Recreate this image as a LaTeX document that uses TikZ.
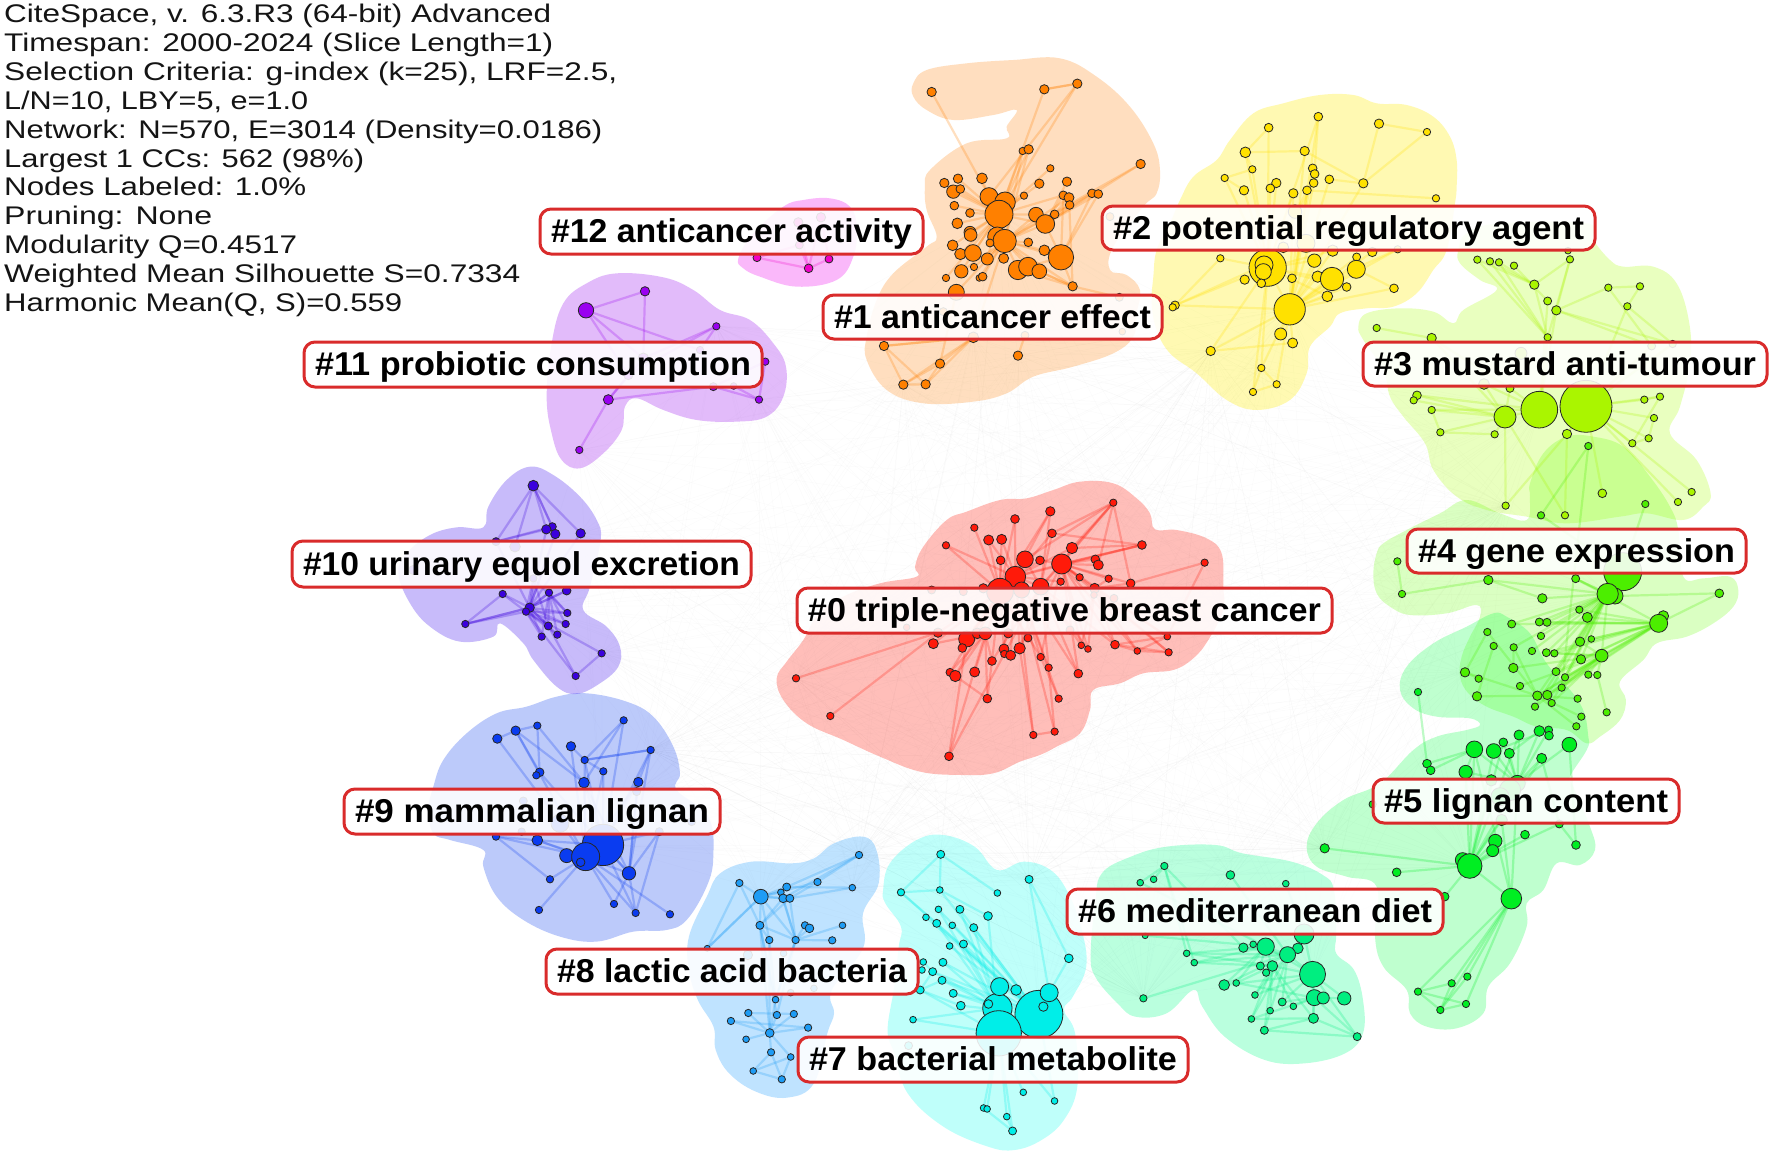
\documentclass[tikz,border=0pt]{standalone}
\usepackage{fontspec}
\usepackage{graphicx}
\setmainfont{Liberation Sans}
\pgfdeclarelayer{web}\pgfdeclarelayer{blob}\pgfdeclarelayer{edges}\pgfdeclarelayer{lab}
\pgfsetlayers{web,blob,edges,main,lab}
\definecolor{n0}{HTML}{FF1A0A}\definecolor{b0}{HTML}{FF2A1A}
\definecolor{n1}{HTML}{FF8000}\definecolor{b1}{HTML}{FF8C1A}
\definecolor{n2}{HTML}{FFE100}\definecolor{b2}{HTML}{FFEE00}
\definecolor{n3}{HTML}{AAF500}\definecolor{b3}{HTML}{A8FF00}
\definecolor{n4}{HTML}{4CEE00}\definecolor{b4}{HTML}{66FF00}
\definecolor{n5}{HTML}{00EE22}\definecolor{b5}{HTML}{00FF40}
\definecolor{n6}{HTML}{00EE80}\definecolor{b6}{HTML}{00FF88}
\definecolor{n7}{HTML}{00EEE8}\definecolor{b7}{HTML}{00FFEE}
\definecolor{n8}{HTML}{1E9CF5}\definecolor{b8}{HTML}{1A9BFF}
\definecolor{n9}{HTML}{0A3CF0}\definecolor{b9}{HTML}{0A3CF0}
\definecolor{n10}{HTML}{3A00DD}\definecolor{b10}{HTML}{4A20F0}
\definecolor{n11}{HTML}{9A00F0}\definecolor{b11}{HTML}{A020F0}
\definecolor{n12}{HTML}{F000C8}\definecolor{b12}{HTML}{F000F0}
\definecolor{labred}{HTML}{D92B2B}
\tikzset{
  fr/.style n args={4}{shift={(#1,#2)},x=#3pt,y=-#4pt},
  dotn/.style={circle,draw=black!85,line width=.8pt,inner sep=0pt,outer sep=0pt},
  edgeln/.style={draw=ec,line width=2.2pt,draw opacity=.25},
  webln/.style={draw=black,line width=.5pt,draw opacity=.014},
  labbox/.style={rounded corners=11pt,draw=labred,line width=3pt,fill=white,fill opacity=.88,text opacity=1,inner sep=0pt,text height=27pt,text depth=5pt},
  infoln/.style={anchor=base west,inner sep=0pt,font=\fontsize{25.5}{29}\selectfont,text=black!92}
}
\newcommand{\cl}[3]{\foreach \nx/\ny/\nr [count=\ni] in {#3}{%
  \pgfmathsetmacro\nd{2*(\nr+2)/3}%
  \node[dotn,fill=#2,minimum size=\nd pt] (#1-\ni) at (\nx,\ny) {};}}
\newcommand{\fan}[3]{\begin{pgfonlayer}{edges}\foreach \bb in {#3}{\draw[edgeln] (#1-#2.center) -- (#1-\bb.center);}\end{pgfonlayer}}
\newcommand{\ed}[2]{\begin{pgfonlayer}{edges}\foreach \aa/\bb in {#2}{\draw[edgeln] (#1-\aa.center) -- (#1-\bb.center);}\end{pgfonlayer}}
\newcommand{\blob}[3]{\begin{pgfonlayer}{blob}\fill[fill=#1,fill opacity=#2] plot[smooth cycle,tension=.65] coordinates {#3};\end{pgfonlayer}}
\newcommand{\lab}[6]{\begin{pgfonlayer}{lab}%
  \pgfmathsetmacro\tw{#3-#1-22}%
  \pgfmathsetmacro\lw{#3-#1}\pgfmathsetmacro\lh{#4-#2}%
  \node[labbox,minimum width=\lw pt,minimum height=\lh pt] (#5) at ({(#1+#3)/2},{(#2+#4)/2}) {\resizebox{\tw pt}{\height}{\fontsize{33}{33}\selectfont\bfseries #6}};%
\end{pgfonlayer}}
\begin{document}
\begin{tikzpicture}[x=1pt,y=-1pt]
\useasboundingbox (0,0) rectangle (1771,1153);
\begin{pgfonlayer}{web}
\fill[white] (0,0) rectangle (1771,1153);
\end{pgfonlayer}

% ---- #0
\begin{scope}[fr={760}{470}{.3333}{.3333}]
\colorlet{ec}{n0}
\blob{b0}{.3}{(50,625)(80,575)(130,510)(170,440)(250,380)(360,340)(470,320)(465,290)(490,230)(560,150)(620,125)(720,90)(800,85)(880,60)(960,35)(1060,40)(1130,85)(1170,130)(1185,178)(1250,180)(1340,205)(1385,250)(1390,350)(1390,420)(1345,510)(1300,565)(1240,600)(1150,610)(1080,640)(1000,660)(990,720)(960,790)(890,830)(840,855)(780,875)(700,910)(600,915)(480,905)(360,860)(250,810)(140,760)(70,690)}
\cl{c0}{n0}{1060/98/9,871/124/12,765/147/11,643/173/9,876/190/11,558/226/9,686/210/13,725/208/13,1146/225/11,936/234/15,722/271/11,795/268/23,840/271/11,905/282/28,1006/268/11,1015/285/13,1334/278/9,766/320/29,902/335/9,959/322/9,1046/326/9,1112/340/11,720/365/38,842/350/23,670/355/12,1004/355/13,785/360/22,534/488/12,620/507/22,652/490/14,676/490/17,745/490/12,520/521/13,607/534/11,804/504/10,732/537/13,733/552/9,779/535/15,752/556/13,964/526/8,984/537/8,1065/524/11,1132/543/8,1222/500/8,1226/547/9,842/561/9,866/593/9,696/573/11,570/607/10,586/618/15,644/606/13,955/611/11,108/625/9,682/686/11,896/686/9,211/738/9,820/795/9,884/785/9,567/859/11,515/360/10,610/365/10,1062/385/10,440/472/8,930/480/10,1002/375/8}
\fan{c0}{1}{5,10,14,16,12,22,24}\fan{c0}{9}{10,14,18,5}\fan{c0}{17}{22,44}
\fan{c0}{23}{4,6,7,8,3,2,11,28,29,30,33,34,36,48,49,50,51,46,35,32,12,18}
\fan{c0}{18}{3,6,7,8,2,5,10,13,14,19,24,29,36,38,39,46,47,52,55,57,58}
\fan{c0}{14}{10,13,15,16,20,21,22,26,40,41,42,43,44,45,9,38,46,52}
\fan{c0}{24}{2,5,12,14,40,41,42,52,47,38,48,59}
\fan{c0}{26}{42,43,44,45,40,41,21,22}\fan{c0}{42}{43,44,45}\fan{c0}{43}{45,44}
\fan{c0}{31}{48,50,49,54,34,33,59}
\ed{c0}{53/28,56/28,59/29,57/38,58/47,55/46,54/50,54/48,57/58}
\end{scope}

% ---- #1
\begin{scope}[fr={780}{60}{.3333}{.3333}]
\colorlet{ec}{n1}
\blob{b1}{.28}{(400,70)(440,30)(560,10)(700,0)(840,-5)(950,50)(1050,140)(1120,250)(1140,330)(1130,400)(1090,440)(1000,560)(990,630)(1040,645)(1080,690)(1070,760)(1060,830)(1000,880)(880,920)(760,950)(680,1000)(580,1025)(430,1030)(320,990)(260,900)(260,830)(290,720)(340,640)(440,560)(470,530)(440,450)(435,380)(450,330)(560,250)(680,235)(680,200)(710,150)(640,165)(520,180)(440,150)(400,110)}
\cl{c1}{n1}{455/96/12,793/88/12,892/71/12,728/273/9,746/268/12,811/325/9,1082/312/12,493/369/12,534/356/12,606/355/14,778/371/12,861/365/12,520/395/18,541/387/11,627/410/25,675/427/29,657/463/40,732/407/9,850/406/11,867/413/13,869/435/11,936/400/11,955/402/11,523/437/11,570/459/11,768/464/20,796/492/26,824/463/11,532/490/14,570/517/16,572/525/17,652/530/27,674/543/33,630/549/10,745/547/11,518/556/14,541/582/15,579/579/23,622/597/16,671/595/13,793/571/14,843/592/36,714/630/27,744/620/26,778/634/20,544/634/18,582/621/9,498/654/9,598/654/8,608/650/11,878/679/12,529/697/22,312/858/12,580/832/14,480/911/12,714/887/12,370/974/12,437/973/12,1018/712/10,490/755/10,735/826/10,1027/815/8,990/470/10}
\fan{c1}{17}{1,8,9,13,14,15,16,24,25,29,30,36,37,38,39,46,48,26,27,11,6,18,4,5,2,3,19}
\fan{c1}{33}{5,4,10,22,7,20,26,27,35,41,42,43,44,45,39,40,46,47,49,50,51,52,54}
\fan{c1}{42}{22,23,51,27,44,19}\fan{c1}{27}{12,7,19,20,22,23,21}\fan{c1}{51}{44,43,45,20,59}
\fan{c1}{54}{53,55,57,58}
\ed{c1}{2/3,2/3,3/15,53/57,53/58,57/55,57/58,58/55,55/52,53/54,56/61}
\end{scope}

% ---- #2
\begin{scope}[fr={1140}{90}{.3333}{.3333}]
\colorlet{ec}{n2}
\blob{b2}{.3}{(40,560)(50,480)(90,400)(120,330)(160,260)(230,210)(270,150)(340,70)(430,40)(540,15)(640,15)(710,40)(800,45)(880,80)(930,140)(950,210)(950,290)(945,340)(920,480)(880,540)(830,610)(760,650)(680,655)(600,670)(570,710)(510,770)(500,850)(450,930)(350,960)(260,930)(170,850)(90,790)(50,720)(35,640)}
\cl{c2}{n2}{535/80/11,386/113/11,717/101/12,861/126/9,316/187/14,494/183/12,337/238/9,254/264/9,518/235/11,524/252/11,521/279/11,409/279/12,391/295/11,312/301/12,460/310/12,501/301/11,568/268/11,670/280/12,888/325/9,465/365/18,241/505/9,383/533/54,372/525/25,370/545/22,314/569/12,364/580/11,456/565/11,523/512/18,578/482/15,650/501/10,697/486/12,649/538/25,533/560/15,576/567/33,620/591/11,562/619/14,762/595/11,449/658/45,105/646/11,422/732/16,458/759/13,212/783/12,364/834/9,410/883/9,339/906/9,773/478/9,498/460/25,430/472/14,98/652/9}
\fan{c2}{22}{2,5,7,8,14,13,12,15,16,11,1,21,25,39,42,43,45,38,36,35,28,33,29}
\fan{c2}{38}{1,6,9,11,15,16,17,18,28,29,30,31,32,33,34,35,36,37,46,39,42,40,41,43,44}
\ed{c2}{3/4,3/18,4/18,1/11,2/5,5/6,5/7,6/18,8/7,8/14,17/18,19/16,46/34,37/32,39/23,39/21,43/44,44/45,43/45,42/41}
\end{scope}

% ---- #3
\begin{scope}[fr={1300}{230}{.3333}{.3333}]
\colorlet{ec}{n3}
\blob{b3}{.25}{(475,60)(480,100)(540,150)(590,180)(490,240)(460,280)(400,245)(300,235)(200,250)(175,290)(190,330)(250,420)(270,500)(310,560)(375,640)(400,720)(470,800)(560,840)(680,860)(800,880)(960,860)(1040,850)(1150,870)(1210,830)(1232,790)(1190,690)(1110,610)(1140,530)(1170,400)(1168,280)(1130,160)(1060,110)(970,110)(930,90)(880,30)(860,-20)(600,-20)(500,10)}
\cl{c3}{n3}{532/89/9,570/94/9,597/97/9,642/107/9,804/62/8,810/88/9,703/164/12,743/213/10,769/241/12,925/173/9,1020/169/9,982/229/9,230/294/9,395/324/12,743/322/9,1055/348/10,1118/342/9,663/370/16,351/496/11,341/511/9,395/540/9,421/607/9,584/613/9,615/561/31,718/539/53,858/529/76,801/612/12,1033/509/9,1080/500/9,1062/564/9,1046/625/9,997/640/9,630/475/10,552/462/14,907/790/11,1175/786/9,1134/816/9,617/827/9,795/856/9}
\fan{c3}{26}{28,29,30,31,32,27,36,37,35,16,17,12}
\fan{c3}{25}{24,33,34,19,21,15,9,8}
\fan{c3}{24}{19,20,21,22,23,34,33,38,39,14}
\ed{c3}{22/21,22/23,13/14,38/27,39/27,14/33,8/4,7/1,7/2,7/3,9/6,6/7,9/10,10/11,11/12,9/16,12/17,9/17,10/16,15/1,15/2,15/3,15/6,15/7,26/27,30/31,29/32,28/29,32/31}
\end{scope}

% ---- #4
\begin{scope}[fr={1380}{560}{.3333}{.3333}]
\colorlet{ec}{n4}
\blob{b4}{.24}{(450,-230)(490,-320)(560,-370)(640,-370)(730,-340)(810,-250)(870,-160)(895,-90)(910,50)(970,55)(1050,50)(1075,90)(1060,140)(1000,190)(920,230)(830,250)(790,300)(720,365)(738,420)(720,480)(660,530)(620,550)(560,510)(470,500)(400,470)(320,440)(265,400)(240,350)(245,290)(270,230)(300,170)(290,135)(200,160)(90,165)(30,140)(-10,100)(-20,40)(-10,-20)(10,-50)(80,-90)(180,-140)(260,-180)(360,-140)(440,-120)(450,-190)}
\cl{c4}{n4}{625/-342/9,483/-134/9,796/-168/9,52/4/9,66/102/9,325/60/12,587/56/10,487/115/12,728/35/55,705/108/22,683/102/30,1018/100/11,850/168/14,836/190/25,598/149/9,622/172/13,395/192/10,478/186/10,501/187/10,483/228/9,634/237/8,600/245/12,401/262/9,456/273/9,499/278/10,523/280/9,665/287/17,603/298/12,400/324/12,528/335/10,555/352/9,625/344/9,652/345/9,420/378/9,545/383/9,472/407/12,502/405/12,593/416/9,515/429/9,465/440/9,680/457/9,604/470/9,589/499/9,322/216/9,341/258/9,255/337/12,296/356/9,291/409/12}
\fan{c4}{11}{6,7,8,15,16,17,18,19,20,22,23,25,26,27,28,30,31,35,36,37,39,40,24}
\fan{c4}{14}{12,22,21,16,25,26,28,27,30,31,36,37,35,7,15,18,19,17}
\fan{c4}{27}{36,37,35,39,40,25,26,22,32,33,31,34}
\fan{c4}{36}{43,42,38,48,46,23,44}
\ed{c4}{5/4,5/6,6/8,1/2,3/9,2/9,12/10,33/41,29/23,46/47,44/46,45/48,29/27,7/11,1/35}
\end{scope}

% ---- #5
\begin{scope}[fr={1280}{620}{.3333}{.3333}]
\colorlet{ec}{n5}
\blob{b5}{.25}{(360,210)(380,140)(460,70)(560,20)(640,-20)(680,-10)(750,40)(800,130)(900,250)(925,350)(920,390)(870,470)(880,500)(930,620)(945,690)(900,735)(830,730)(790,810)(740,850)(740,920)(690,1030)(625,1100)(610,1180)(530,1225)(440,1220)(390,1180)(380,1110)(310,1040)(285,950)(290,800)(200,770)(110,740)(80,680)(110,610)(190,540)(300,490)(400,390)(470,350)(560,330)(600,315)(570,295)(470,290)(400,265)}
\cl{c5}{n5}{414/216/9,583/388/23,641/393/20,688/400/13,670/367/11,717/345/13,778/333/14,806/330/10,807/347/11,868/374/20,785/415/13,441/431/11,452/451/11,557/456/18,634/481/15,712/490/22,278/553/9,665/600/15,838/612/10,735/644/11,646/663/18,638/692/16,888/675/11,134/685/12,350/757/11,548/720/20,569/738/35,494/830/11,694/836/29,414/1115/9,515/1090/9,562/1070/9,481/1170/9,558/1152/9,690/510/30,660/530/25}
\fan{c5}{27}{24,25,28,20,19,21,22,15,16,18,2,3,5,6,11,14}
\fan{c5}{29}{27,30,31,32,33,34,18,16,2}
\fan{c5}{16}{2,3,4,5,6,7,8,10,11,14,15}
\fan{c5}{2}{12,13,14}
\ed{c5}{30/33,30/34,31/33,32/33,33/34,30/31,1/12,10/23,11/19,7/4,3/8,23/19,27/26}
\end{scope}

% ---- #6, #7, #8
\begin{scope}[fr={680}{820}{.4464}{.3333}]
\colorlet{ec}{n6}
\blob{b6}{.27}{(920,400)(930,250)(945,160)(1010,110)(1090,80)(1200,75)(1260,100)(1370,125)(1440,165)(1465,210)(1470,340)(1470,400)(1510,450)(1530,540)(1530,640)(1490,700)(1400,730)(1310,720)(1220,650)(1170,560)(1150,510)(1090,580)(1020,590)(980,550)(930,470)}
\cl{c6}{n6}{1085/138/9,1061/178/8,1031/188/8,1233/165/11,1357/191/8,1042/347/7,1398/342/28,1262/383/12,1284/373/8,1312/380/24,1384/385/14,1361/404/22,1135/400/8,1152/428/8,1300/438/10,1327/438/14,1313/458/9,1417/463/37,1219/495/14,1246/489/8,1288/525/8,1421/533/22,1441/534/16,1488/535/18,1349/546/10,1374/559/8,1322/572/8,1419/595/13,1280/597/8,1309/631/10,1517/650/10,1038/535/9}
\fan{c6}{18}{10,12,16,19,21,22,24,28,31,25,7}
\fan{c6}{12}{8,10,14,13,19,21,25,29,30,32}
\fan{c6}{22}{28,31,29,26,25,20,24}
\fan{c6}{16}{13,14,20,21,26,27,28,29,30}
\fan{c6}{10}{13,14,6,15,16,19,20,8}
\ed{c6}{1/2,1/3,1/8,1/13,1/14,3/10,4/12,5/7,28/30,28/29,28/31,30/31}

\colorlet{ec}{n7}
\blob{b7}{.25}{(455,210)(470,130)(530,60)(590,45)(660,80)(710,150)(770,125)(830,150)(870,220)(900,330)(910,440)(880,530)(860,570)(885,640)(890,800)(860,900)(810,960)(750,990)(690,980)(590,920)(510,820)(480,700)(465,630)(480,500)(490,380)(495,320)(460,250)}
\cl{c7}{n7}{584/103/10,495/217/9,582/210/8,711/219/8,782/178/10,579/268/8,627/268/10,551/292/8,690/288/11,575/310/10,610/316/8,658/323/10,604/378/8,635/372/10,871/415/11,589/427/10,545/426/8,542/450/8,566/455/10,587/481/10,538/510/10,612/520/10,629/557/11,522/599/8,711/565/42,804/583/70,714/640/66,716/500/25,753/510/14,827/518/25,691/552/11,814/560/12,769/817/8,839/843/8,680/864/8,688/867/8,732/890/8,745/933/10,512/677/10}
\fan{c7}{26}{8,10,11,12,13,14,16,19,20,22,23,2,3,6,7}
\fan{c7}{25}{9,12,14,16,19,20,22,24,7,6,10}
\fan{c7}{27}{33,34,35,36,37,38,24,21}
\ed{c7}{1/2,1/3,1/4,2/3,3/9,2/10,5/15,5/30,15/30,26/34,35/38,21/20,23/21,37/38,21/19,19/17}

\colorlet{ec}{n8}
\blob{b8}{.28}{(20,350)(60,230)(90,160)(160,125)(250,130)(300,115)(345,70)(410,50)(440,90)(445,190)(410,280)(410,385)(340,510)(345,580)(330,640)(300,790)(240,833)(170,815)(110,760)(80,690)(75,620)(40,540)(20,450)}
\cl{c8}{n8}{401/105/9,133/189/9,239/201/10,308/186/9,386/203/8,181/230/20,226/217/8,231/235/11,246/235/10,179/316/10,280/316/9,290/325/11,364/316/8,200/360/9,259/360/9,341/361/9,61/385/7,214/539/8,153/579/9,217/585/9,255/582/9,114/603/9,287/623/9,201/639/11,148/658/8,204/697/9,248/711/8,164/753/8,228/778/9,152/405/12,232/400/8,248/518/8,300/505/8}
\fan{c8}{6}{2,3,4,7,8,9,10,14,15,17}
\fan{c8}{10}{8,9,14,15,18,20,24}
\fan{c8}{15}{9,8,11,12,13,16,18,20,7}
\fan{c8}{24}{19,20,21,22,23,25,26,18,27}
\ed{c8}{3/1,8/1,9/4,9/5,4/1,3/5,22/23,19/21,26/28,27/28,28/29,27/29,26/29,2/10,17/2,17/6,14/18,14/24,15/18}
\end{scope}

% ---- #9, #10
\begin{scope}[fr={400}{440}{.3333}{.3333}]
\colorlet{ec}{n9}
\blob{b9}{.27}{(100,1040)(130,960)(200,880)(290,820)(380,800)(470,770)(560,760)(680,785)(760,830)(820,920)(840,1000)(830,1050)(925,1130)(940,1250)(920,1340)(860,1440)(800,1470)(700,1475)(590,1505)(480,1490)(370,1440)(290,1370)(250,1280)(250,1230)(150,1200)(100,1180)(85,1110)}
\cl{c9}{n9}{671/841/9,412/857/9,347/872/12,292/896/12,513/919/12,752/930/9,554/960/9,610/994/9,419/997/11,409/1006/9,552/1028/14,715/1026/12,288/1190/9,412/1201/14,609/1215/60,500/1247/19,557/1250/40,687/1300/18,450/1318/9,417/1410/9,642/1392/9,707/1419/9,810/1423/9,710/1055/10,778/1175/10,370/1083/10,875/1145/10,365/1175/9,480/1150/25,542/1267/11}
\fan{c9}{17}{4,3,11,14,16,19,20,21,22,23,7,5,8,12,13}
\fan{c9}{18}{14,15,21,22,24,25,6,12,11}
\fan{c9}{15}{1,7,8,9,11,12,6,14,18,25,22}
\ed{c9}{4/3,3/2,2/9,3/9,3/11,2/11,5/7,7/6,7/6,7/1,7/8,1/11,6/12,13/14,13/19,22/25}

\colorlet{ec}{n10}
\blob{b10}{.3}{(-5,400)(20,340)(90,285)(170,262)(250,262)(265,200)(320,120)(390,80)(460,105)(540,170)(590,240)(602,300)(570,440)(550,510)(620,560)(660,620)(655,680)(600,730)(530,762)(470,740)(400,660)(370,610)(300,550)(280,590)(180,605)(90,560)(30,490)}
\cl{c10}{n10}{400/137/14,542/280/12,457/260/10,439/268/12,466/282/12,288/305/10,500/452/11,447/458/9,308/462/9,389/503/12,378/515/9,502/519/9,497/552/9,445/558/10,196/552/9,472/584/9,425/590/9,605/640/9,527/708/9,345/320/14,40/390/12,400/415/9}
\fan{c10}{10}{4,5,6,9,7,8,12,13,14,15,16,17,2}
\fan{c10}{8}{11,12,13,14,16,17}
\fan{c10}{11}{12,13,14,16,17,18,19}
\ed{c10}{1/2,1/3,1/4,1/5,1/6,1/20,9/15,9/11,15/10,15/11,18/19,6/4,6/3,7/10,14/19,5/10,22/10,22/11,22/14,22/12}
\end{scope}

% ---- #11, #12
\begin{scope}[fr={530}{190}{.3333}{.3333}]
\colorlet{ec}{n11}
\blob{b11}{.3}{(50,620)(65,460)(100,340)(170,280)(260,250)(400,262)(490,300)(570,360)(660,390)(730,460)(768,530)(760,620)(710,680)(620,695)(500,690)(400,660)(320,625)(285,650)(275,720)(220,790)(150,835)(95,810)(65,730)}
\cl{c11}{n11}{168/361/21,345/304/12,559/409/9,706/515/9,550/590/10,611/588/8,235/629/13,687/629/9,148/780/9,340/505/14,295/555/12,510/480/9}
\ed{c11}{1/2,1/10,1/11,2/10,3/10,3/12,3/11,4/8,5/8,6/8,7/9,7/5,7/11,7/10,1/12,4/5}

\colorlet{ec}{n12}
\blob{b12}{.28}{(625,205)(670,130)(760,50)(820,30)(900,25)(960,50)(980,110)(970,200)(920,270)(800,290)(690,260)(640,235)}
\cl{c12}{n12}{681/203/10,836/235/11,897/207/10,805/97/12,873/82/12,808/165/10}
\ed{c12}{1/2,2/3,2/4,2/5,2/6,3/5,1/6,6/4}
\end{scope}

% faint web between the clusters
\begin{pgfonlayer}{web}
\foreach \wa in {c0-18,c0-53,c0-59,c1-17,c1-57,c2-38,c2-42,c3-25,c3-38,c4-11,c5-27,c5-24,c6-18,c6-32,c7-26,c7-5,c8-6,c8-1,c9-15,c9-6,c10-10,c11-3}
  \foreach \wb in {c0-1,c0-17,c0-53,c0-59,c1-54,c1-56,c2-43,c2-42,c3-22,c3-38,c4-46,c4-5,c5-1,c5-24,c6-32,c6-4,c7-5,c7-1,c8-1,c8-5,c9-6,c9-24,c10-18,c10-2,c11-8,c11-9}
    {\draw[webln] (\wa.center) -- (\wb.center);}
\end{pgfonlayer}

% labels
\lab{797}{588}{1332}{633}{l0}{\#0 triple-negative breast cancer}
\lab{823}{295}{1162}{339}{l1}{\#1 anticancer effect}
\lab{1102}{206}{1595}{250}{l2}{\#2 potential regulatory agent}
\lab{1363}{342}{1767}{386}{l3}{\#3 mustard anti-tumour}
\lab{1407}{529}{1746}{573}{l4}{\#4 gene expression}
\lab{1373}{779}{1679}{823}{l5}{\#5 lignan content}
\lab{1067}{889}{1443}{934}{l6}{\#6 mediterranean diet}
\lab{798}{1037}{1188}{1082}{l7}{\#7 bacterial metabolite}
\lab{546}{949}{918}{994}{l8}{\#8 lactic acid bacteria}
\lab{344}{789}{720}{834}{l9}{\#9 mammalian lignan}
\lab{292}{541}{751}{587}{l10}{\#10 urinary equol excretion}
\lab{304}{342}{762}{387}{l11}{\#11 probiotic consumption}
\lab{540}{209}{923}{254}{l12}{\#12 anticancer activity}

% info text: target width of each line, then its text
\foreach \lw/\tl [count=\ti] in {547/{CiteSpace, v. 6.3.R3 (64-bit) Advanced},549/{Timespan: 2000-2024 (Slice Length=1)},613/{Selection Criteria: g-index (k=25), LRF=2.5,},304/{L/N=10, LBY=5, e=1.0},598/{Network: N=570, E=3014 (Density=0.0186)},360/{Largest 1 CCs: 562 (98\%)},302/{Nodes Labeled: 1.0\%},208/{Pruning: None},293/{Modularity Q=0.4517},516/{Weighted Mean Silhouette S=0.7334},398/{Harmonic Mean(Q, S)=0.559}}{
  \pgfmathsetmacro\ty{23+28.8*(\ti-1)}
  \node[infoln] (t\ti) at (4,\ty) {\resizebox{\lw pt}{\height}{\tl}};
}
\end{tikzpicture}
\end{document}
